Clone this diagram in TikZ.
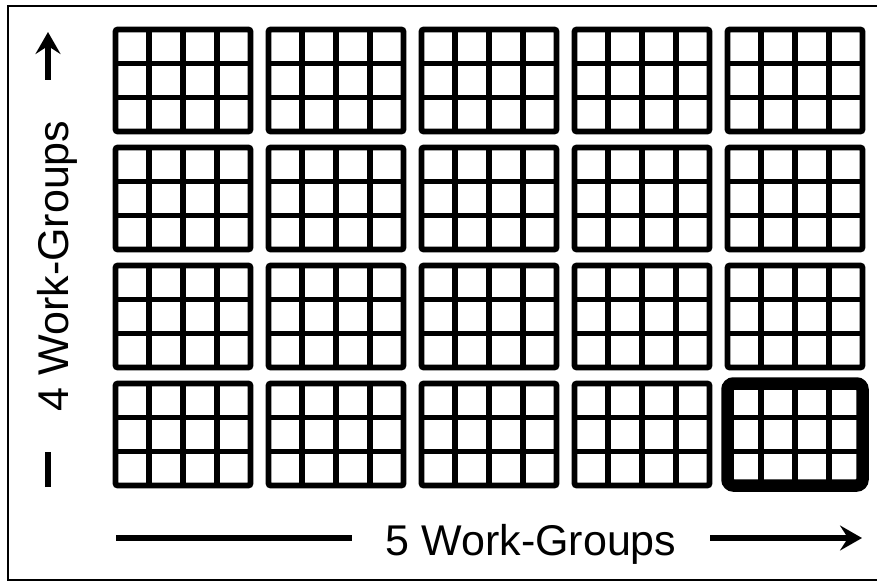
\documentclass[tikz,border=0pt]{standalone}
\usepackage{fontspec}
\setmainfont{Liberation Sans}
\usetikzlibrary{arrows.meta}

\begin{document}
\begin{tikzpicture}[x=1pt,y=-1pt,line width=5.6pt,
  wglabel/.style={font=\fontsize{43}{50}\selectfont,anchor=base,inner sep=0pt},
  wgarrow/.style={-{Stealth[length=22pt,width=25pt,inset=8pt]}}]
\useasboundingbox (0,0) rectangle (877,581);
\draw[line width=1.5pt] (890,6) -- (8,6) -- (8,580) -- (890,580);
\foreach \i in {0,...,4}
  \foreach \j in {0,...,3} {
    \begin{scope}[shift={(115.5+153*\i,29.5+118*\j)}]
      \draw[rounded corners=2pt] (0,0) rectangle (135,102);
      \foreach \k in {1,2,3} \draw (33.75*\k,0) -- (33.75*\k,102);
      \foreach \k in {1,2} \draw (0,34*\k) -- (135,34*\k);
    \end{scope}
  }
\draw[line width=12.5pt,rounded corners=6pt] (727.5,383.5) rectangle (862.5,485.5);
\node[wglabel,inner xsep=31pt] (wgx) at (531,555) {5 Work-Groups};
\node[wglabel,inner xsep=38pt,rotate=90] (wgy) at (68,266) {4 Work-Groups};
\coordinate (xs) at (116,538);
\coordinate (xe) at (862,538);
\coordinate (ys) at (48,487);
\coordinate (ye) at (48,32);
\draw (xs) -- (xs -| wgx.west);
\draw[wgarrow] (xe -| wgx.east) -- (xe);
\draw (ys) -- (ys |- wgy.west);
\draw[wgarrow] (ye |- wgy.east) -- (ye);
\end{tikzpicture}
\end{document}
